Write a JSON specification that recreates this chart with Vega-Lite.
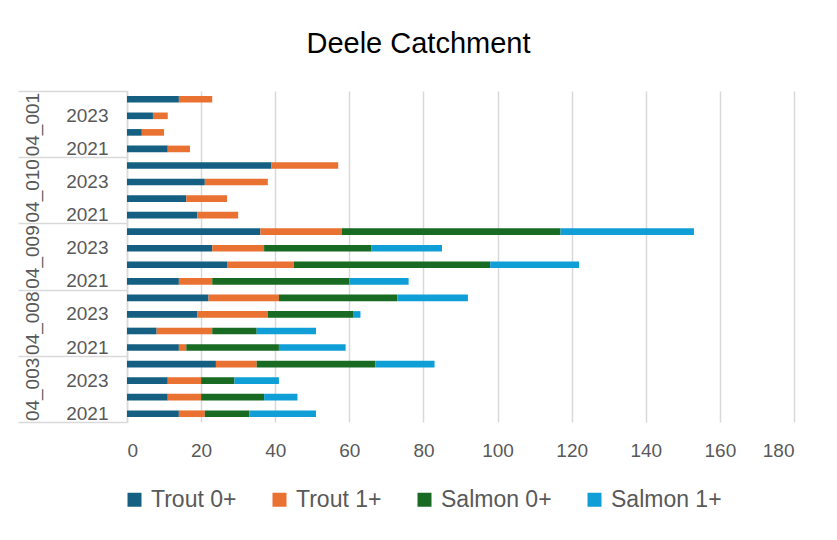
{
  "$schema": "https://vega.github.io/schema/vega-lite/v6.json",
  "width": 667,
  "height": 331,
  "autosize": {"type": "none"},
  "padding": {"left": 127, "top": 91, "right": 43, "bottom": 118},
  "background": "white",
  "title": {
    "text": "Deele Catchment",
    "font": "Liberation Sans",
    "fontSize": 29,
    "fontWeight": "normal",
    "color": "#000000",
    "anchor": "middle",
    "dx": -42,
    "offset": 31
  },
  "data": {
    "values": [
      {"site": "04_001", "year": 2024, "species": "Trout 0+", "count": 14},
      {"site": "04_001", "year": 2024, "species": "Trout 1+", "count": 9},
      {"site": "04_001", "year": 2023, "species": "Trout 0+", "count": 7},
      {"site": "04_001", "year": 2023, "species": "Trout 1+", "count": 4},
      {"site": "04_001", "year": 2022, "species": "Trout 0+", "count": 4},
      {"site": "04_001", "year": 2022, "species": "Trout 1+", "count": 6},
      {"site": "04_001", "year": 2021, "species": "Trout 0+", "count": 11},
      {"site": "04_001", "year": 2021, "species": "Trout 1+", "count": 6},
      {"site": "04_010", "year": 2024, "species": "Trout 0+", "count": 39},
      {"site": "04_010", "year": 2024, "species": "Trout 1+", "count": 18},
      {"site": "04_010", "year": 2023, "species": "Trout 0+", "count": 21},
      {"site": "04_010", "year": 2023, "species": "Trout 1+", "count": 17},
      {"site": "04_010", "year": 2022, "species": "Trout 0+", "count": 16},
      {"site": "04_010", "year": 2022, "species": "Trout 1+", "count": 11},
      {"site": "04_010", "year": 2021, "species": "Trout 0+", "count": 19},
      {"site": "04_010", "year": 2021, "species": "Trout 1+", "count": 11},
      {"site": "04_009", "year": 2024, "species": "Trout 0+", "count": 36},
      {"site": "04_009", "year": 2024, "species": "Trout 1+", "count": 22},
      {"site": "04_009", "year": 2024, "species": "Salmon 0+", "count": 59},
      {"site": "04_009", "year": 2024, "species": "Salmon 1+", "count": 36},
      {"site": "04_009", "year": 2023, "species": "Trout 0+", "count": 23},
      {"site": "04_009", "year": 2023, "species": "Trout 1+", "count": 14},
      {"site": "04_009", "year": 2023, "species": "Salmon 0+", "count": 29},
      {"site": "04_009", "year": 2023, "species": "Salmon 1+", "count": 19},
      {"site": "04_009", "year": 2022, "species": "Trout 0+", "count": 27},
      {"site": "04_009", "year": 2022, "species": "Trout 1+", "count": 18},
      {"site": "04_009", "year": 2022, "species": "Salmon 0+", "count": 53},
      {"site": "04_009", "year": 2022, "species": "Salmon 1+", "count": 24},
      {"site": "04_009", "year": 2021, "species": "Trout 0+", "count": 14},
      {"site": "04_009", "year": 2021, "species": "Trout 1+", "count": 9},
      {"site": "04_009", "year": 2021, "species": "Salmon 0+", "count": 37},
      {"site": "04_009", "year": 2021, "species": "Salmon 1+", "count": 16},
      {"site": "04_008", "year": 2024, "species": "Trout 0+", "count": 22},
      {"site": "04_008", "year": 2024, "species": "Trout 1+", "count": 19},
      {"site": "04_008", "year": 2024, "species": "Salmon 0+", "count": 32},
      {"site": "04_008", "year": 2024, "species": "Salmon 1+", "count": 19},
      {"site": "04_008", "year": 2023, "species": "Trout 0+", "count": 19},
      {"site": "04_008", "year": 2023, "species": "Trout 1+", "count": 19},
      {"site": "04_008", "year": 2023, "species": "Salmon 0+", "count": 23},
      {"site": "04_008", "year": 2023, "species": "Salmon 1+", "count": 2},
      {"site": "04_008", "year": 2022, "species": "Trout 0+", "count": 8},
      {"site": "04_008", "year": 2022, "species": "Trout 1+", "count": 15},
      {"site": "04_008", "year": 2022, "species": "Salmon 0+", "count": 12},
      {"site": "04_008", "year": 2022, "species": "Salmon 1+", "count": 16},
      {"site": "04_008", "year": 2021, "species": "Trout 0+", "count": 14},
      {"site": "04_008", "year": 2021, "species": "Trout 1+", "count": 2},
      {"site": "04_008", "year": 2021, "species": "Salmon 0+", "count": 25},
      {"site": "04_008", "year": 2021, "species": "Salmon 1+", "count": 18},
      {"site": "04_003", "year": 2024, "species": "Trout 0+", "count": 24},
      {"site": "04_003", "year": 2024, "species": "Trout 1+", "count": 11},
      {"site": "04_003", "year": 2024, "species": "Salmon 0+", "count": 32},
      {"site": "04_003", "year": 2024, "species": "Salmon 1+", "count": 16},
      {"site": "04_003", "year": 2023, "species": "Trout 0+", "count": 11},
      {"site": "04_003", "year": 2023, "species": "Trout 1+", "count": 9},
      {"site": "04_003", "year": 2023, "species": "Salmon 0+", "count": 9},
      {"site": "04_003", "year": 2023, "species": "Salmon 1+", "count": 12},
      {"site": "04_003", "year": 2022, "species": "Trout 0+", "count": 11},
      {"site": "04_003", "year": 2022, "species": "Trout 1+", "count": 9},
      {"site": "04_003", "year": 2022, "species": "Salmon 0+", "count": 17},
      {"site": "04_003", "year": 2022, "species": "Salmon 1+", "count": 9},
      {"site": "04_003", "year": 2021, "species": "Trout 0+", "count": 14},
      {"site": "04_003", "year": 2021, "species": "Trout 1+", "count": 7},
      {"site": "04_003", "year": 2021, "species": "Salmon 0+", "count": 12},
      {"site": "04_003", "year": 2021, "species": "Salmon 1+", "count": 18}
    ]
  },
  "transform": [
    {"calculate": "datum.site + '|' + datum.year", "as": "key"},
    {"calculate": "indexof(['Trout 0+','Trout 1+','Salmon 0+','Salmon 1+'], datum.species)", "as": "sp_order"}
  ],
  "layer": [
    {
      "mark": {"type": "bar"},
      "encoding": {
        "y": {
          "field": "key",
          "type": "nominal",
          "scale": {
            "domain": [
              "04_001|2024", "04_001|2023", "04_001|2022", "04_001|2021",
              "04_010|2024", "04_010|2023", "04_010|2022", "04_010|2021",
              "04_009|2024", "04_009|2023", "04_009|2022", "04_009|2021",
              "04_008|2024", "04_008|2023", "04_008|2022", "04_008|2021",
              "04_003|2024", "04_003|2023", "04_003|2022", "04_003|2021"
            ],
            "paddingInner": 0.6,
            "paddingOuter": 0.3
          },
          "axis": {
            "orient": "left",
            "title": null,
            "ticks": false,
            "domain": true,
            "domainColor": "#D9D9D9",
            "domainWidth": 1.5,
            "labelExpr": "(split(datum.value,'|')[1] == '2021' || split(datum.value,'|')[1] == '2023') ? split(datum.value,'|')[1] : ''",
            "labelFont": "Liberation Sans",
            "labelFontSize": 19,
            "labelColor": "#595959",
            "labelPadding": 19,
            "labelOverlap": false,
            "grid": false
          }
        },
        "x": {
          "field": "count",
          "type": "quantitative",
          "stack": "zero",
          "scale": {"domain": [0, 180], "nice": false},
          "axis": {
            "title": null,
            "values": [0, 20, 40, 60, 80, 100, 120, 140, 160, 180],
            "grid": true,
            "gridColor": "#D9D9D9",
            "gridWidth": 1.5,
            "ticks": false,
            "domain": false,
            "labelFont": "Liberation Sans",
            "labelFontSize": 19,
            "labelColor": "#595959",
            "labelPadding": 19
          }
        },
        "color": {
          "field": "species",
          "type": "nominal",
          "scale": {
            "domain": ["Trout 0+", "Trout 1+", "Salmon 0+", "Salmon 1+"],
            "range": ["#156082", "#E97132", "#196B24", "#0F9ED5"]
          },
          "legend": {
            "title": null,
            "orient": "none",
            "direction": "horizontal",
            "legendX": -4,
            "legendY": 397,
            "padding": 0,
            "symbolType": "square",
            "symbolSize": 196,
            "symbolStrokeWidth": 0,
            "labelFont": "Liberation Sans",
            "labelFontSize": 23,
            "labelColor": "#595959",
            "labelOffset": 5,
            "columnPadding": 31
          }
        },
        "order": {"field": "sp_order", "type": "quantitative", "sort": "ascending"}
      }
    },
    {
      "mark": {"type": "tick", "opacity": 0},
      "encoding": {
        "y": {
          "field": "site",
          "type": "nominal",
          "scale": {
            "domain": ["04_001", "04_010", "04_009", "04_008", "04_003"],
            "paddingInner": 0,
            "paddingOuter": 0
          },
          "axis": {
            "orient": "left",
            "title": null,
            "domain": false,
            "ticks": true,
            "tickBand": "extent",
            "tickSize": 109,
            "tickColor": "#D9D9D9",
            "tickWidth": 1.5,
            "labelAngle": 270,
            "labelAlign": "center",
            "labelBaseline": "bottom",
            "labelFont": "Liberation Sans",
            "labelFontSize": 19,
            "labelColor": "#595959",
            "labelPadding": -24,
            "grid": false
          }
        }
      }
    }
  ],
  "resolve": {"scale": {"y": "independent"}, "axis": {"y": "independent"}},
  "config": {"view": {"stroke": null}}
}
